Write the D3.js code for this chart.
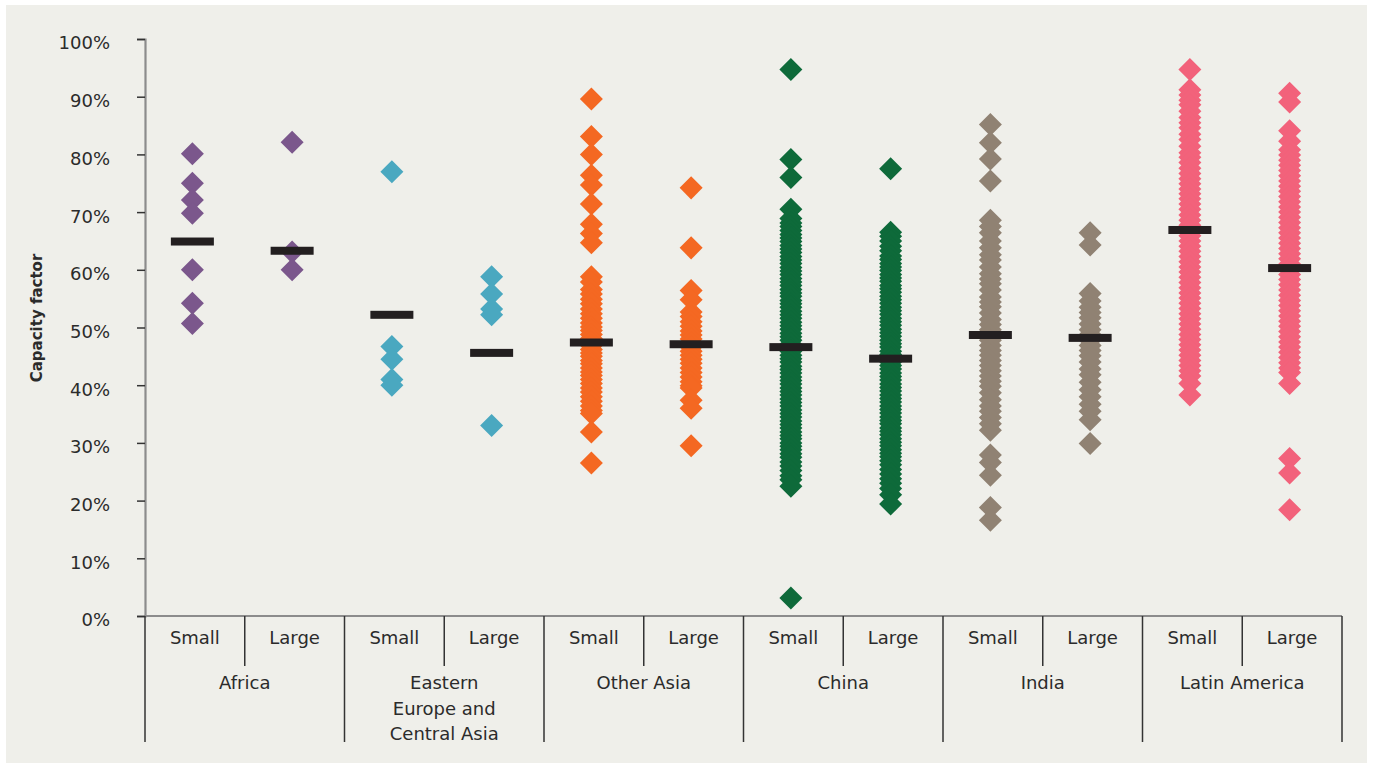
<!DOCTYPE html>
<html><head><meta charset="utf-8">
<script src="https://cdn.jsdelivr.net/npm/d3@7"></script>
<style>
html,body{margin:0;padding:0;background:#ffffff;}
svg{display:block;}
text{font-family:"DejaVu Sans",sans-serif;fill:#2b2b2b;}
</style></head>
<body>
<svg id="chart" width="1373" height="769"></svg>
<script>
// ---- data ----
const groups = ["Africa", "Eastern\nEurope and\nCentral Asia", "Other Asia", "China", "India", "Latin America"];
const sizes = ["Small", "Large"];
const groupColors = ["#7b578c", "#4aa8c0", "#f46822", "#0e6a3a", "#908273", "#f2627b"];
const yTicks = [0, 10, 20, 30, 40, 50, 60, 70, 80, 90, 100];
const yTitle = "Capacity factor";

const africaSmall = [80.1, 75.0, 72.1, 69.8, 60.0, 54.2, 50.7];
const africaLarge = [82.1, 63.1, 60.0];
const eeSmall = [77.0, 46.7, 44.5, 41.0, 40.0];
const eeLarge = [58.8, 55.8, 53.2, 52.2, 33.0];
const otherAsiaSmall = [89.6, 83.1, 80.0, 76.4, 74.7, 71.4, 67.9, 66.3, 64.7, 58.8, 57.9, 56.6, 55.8, 54.9, 54.1, 53.2, 52.4, 51.6, 50.8, 50.1, 49.5, 48.8, 48.1, 47.5, 46.9, 46.2, 45.6, 45.0, 44.3, 43.7, 43.0, 42.3, 41.7, 41.0, 40.3, 39.5, 38.8, 38.0, 37.2, 36.4, 35.6, 35.1, 31.9, 26.5];
const otherAsiaLarge = [74.2, 63.8, 56.4, 54.8, 52.7, 51.9, 51.0, 50.2, 49.4, 48.7, 48.0, 47.3, 46.6, 45.9, 45.2, 44.5, 43.8, 43.0, 42.2, 41.4, 40.6, 39.9, 39.5, 37.4, 36.0, 29.5];
const chinaSmall = [94.7, 79.1, 76.0, 70.5, 68.9, 68.1, 67.5, 66.8, 66.1, 65.5, 64.9, 64.2, 63.6, 63.0, 62.3, 61.7, 61.1, 60.4, 59.8, 59.2, 58.5, 57.9, 57.3, 56.6, 56.0, 55.4, 54.7, 54.1, 53.5, 52.8, 52.2, 51.6, 50.9, 50.3, 49.7, 49.0, 48.4, 47.8, 47.1, 46.5, 45.9, 45.2, 44.6, 44.0, 43.3, 42.7, 42.1, 41.4, 40.8, 40.2, 39.5, 38.9, 38.3, 37.6, 37.0, 36.4, 35.7, 35.1, 34.5, 33.8, 33.2, 32.6, 31.9, 31.3, 30.7, 30.0, 29.4, 28.8, 28.1, 27.5, 26.7, 26.0, 25.2, 24.3, 23.6, 22.5, 3.1];
const chinaLarge = [77.5, 66.5, 65.8, 65.0, 64.1, 63.3, 62.4, 61.8, 61.1, 60.5, 59.9, 59.2, 58.6, 58.0, 57.3, 56.7, 56.1, 55.4, 54.8, 54.2, 53.5, 52.9, 52.3, 51.6, 51.0, 50.4, 49.7, 49.1, 48.5, 47.8, 47.2, 46.6, 45.9, 45.3, 44.7, 44.0, 43.4, 42.8, 42.1, 41.5, 40.9, 40.2, 39.6, 39.0, 38.3, 37.7, 37.1, 36.4, 35.8, 35.2, 34.5, 33.9, 33.3, 32.6, 32.0, 31.4, 30.7, 30.1, 29.5, 28.8, 28.2, 27.6, 26.9, 26.2, 25.4, 24.6, 23.8, 23.0, 22.1, 21.0, 19.4];
const indiaSmall = [85.2, 82.0, 79.2, 75.4, 68.6, 67.5, 66.4, 65.0, 63.8, 62.6, 61.7, 60.5, 59.3, 58.4, 57.6, 56.5, 55.3, 54.4, 53.6, 52.5, 51.4, 50.5, 49.6, 48.7, 47.8, 46.9, 46.0, 45.2, 44.3, 43.4, 42.5, 41.6, 40.7, 39.8, 38.7, 37.5, 36.4, 35.5, 34.4, 33.3, 32.2, 27.9, 26.6, 24.4, 18.8, 16.6];
const indiaLarge = [66.4, 64.3, 55.9, 54.6, 53.5, 52.6, 51.7, 50.6, 49.6, 48.8, 47.8, 46.9, 46.0, 45.1, 44.0, 42.8, 41.8, 40.5, 39.2, 38.0, 36.7, 35.5, 34.0, 29.9];
const latinSmall = [94.7, 91.2, 90.3, 89.4, 88.6, 87.5, 86.4, 85.5, 84.6, 83.5, 82.6, 81.4, 80.3, 79.5, 78.6, 77.6, 76.7, 75.8, 74.9, 74.0, 73.2, 72.3, 71.4, 70.5, 69.5, 68.6, 67.7, 66.8, 65.9, 65.0, 64.1, 63.2, 62.3, 61.4, 60.5, 59.6, 58.7, 57.8, 56.9, 56.0, 55.1, 54.2, 53.3, 52.4, 51.5, 50.6, 49.7, 48.8, 47.9, 47.0, 46.1, 45.2, 44.3, 43.4, 42.5, 41.6, 40.3, 38.3];
const latinLarge = [90.6, 89.1, 84.1, 82.3, 80.8, 79.9, 79.0, 78.1, 77.2, 76.3, 75.4, 74.5, 73.6, 72.7, 71.8, 70.9, 70.0, 69.1, 68.2, 67.3, 66.4, 65.5, 64.6, 63.7, 62.8, 61.9, 61.0, 60.1, 59.2, 58.3, 57.4, 56.5, 55.6, 54.7, 53.8, 52.9, 52.0, 51.1, 50.2, 49.3, 48.4, 47.5, 46.6, 45.7, 44.8, 43.9, 43.0, 42.2, 40.3, 27.3, 24.8, 18.4];

const columnValues = [africaSmall, africaLarge, eeSmall, eeLarge, otherAsiaSmall, otherAsiaLarge, chinaSmall, chinaLarge, indiaSmall, indiaLarge, latinSmall, latinLarge];
const medians = [64.9, 63.3, 52.2, 45.6, 47.4, 47.1, 46.6, 44.6, 48.7, 48.2, 66.9, 60.3];

// ---- layout ----
const svg = d3.select("#chart");
const mLeft = 145, mRight = 1342, mTop = 39, mBottom = 616;

svg.append("rect").attr("x", 6).attr("y", 5).attr("width", 1361).attr("height", 758).attr("fill", "#efefea");

const columns = [];
groups.forEach((g, gi) => sizes.forEach((s, si) => columns.push({key: gi + "-" + si, group: gi, size: s, values: columnValues[gi * 2 + si], median: medians[gi * 2 + si]})));

const x = d3.scaleBand().domain(columns.map(c => c.key)).range([mLeft, mRight]).padding(0);
const y = d3.scaleLinear().domain([0, 100]).range([mBottom, mTop]);
const cx = k => x(k) + x.bandwidth() / 2 - 2.5;

// y axis
const yAxis = svg.append("g").attr("transform", `translate(${mLeft},0)`)
  .call(d3.axisLeft(y).tickValues(yTicks).tickFormat(d => d + "%").tickSize(8).tickPadding(27));
yAxis.select(".domain").attr("stroke", "#8c8c8c").attr("stroke-width", 2.2);
yAxis.selectAll(".tick line").attr("stroke", "#333").attr("stroke-width", 1.5);
yAxis.selectAll(".tick text").style("font-family", '"DejaVu Sans",sans-serif').style("font-size", "18px")
  .attr("fill", "#2b2b2b").attr("dy", "0.55em");

// x axis line
svg.append("line").attr("x1", mLeft).attr("x2", mRight).attr("y1", mBottom).attr("y2", mBottom)
  .attr("stroke", "#8c8c8c").attr("stroke-width", 2.2);

// separators
columns.forEach((c, i) => {
  const xx = x(c.key);
  const isGroupStart = i % 2 === 0;
  svg.append("line").attr("x1", xx).attr("x2", xx).attr("y1", mBottom).attr("y2", isGroupStart ? 742 : 666)
    .attr("stroke", "#333").attr("stroke-width", 1.5);
});
svg.append("line").attr("x1", mRight).attr("x2", mRight).attr("y1", mBottom).attr("y2", 742)
  .attr("stroke", "#333").attr("stroke-width", 1.5);

// sub labels
svg.selectAll("text.sub").data(columns).enter().append("text").attr("class", "sub")
  .attr("x", d => x(d.key) + x.bandwidth() / 2).attr("y", 644)
  .attr("text-anchor", "middle").style("font-size", "18px").text(d => d.size);

// group labels
groups.forEach((g, gi) => {
  const gx = x(gi + "-0") + x.bandwidth();
  const t = svg.append("text").attr("x", gx).attr("y", 689).attr("text-anchor", "middle").style("font-size", "18px");
  g.split("\n").forEach((line, li) => {
    t.append("tspan").attr("x", gx).attr("dy", li === 0 ? 0 : 25.5).text(line);
  });
});

// y title
svg.append("text").attr("transform", "translate(42,318) rotate(-90)").attr("text-anchor", "middle")
  .style("font-size", "15px").style("font-weight", "bold").attr("fill", "#1a1a1a").text(yTitle);

// points
const sym = d3.symbol().type(d3.symbolSquare).size(265);
columns.forEach(c => {
  svg.append("g").selectAll("path").data(c.values).enter().append("path")
    .attr("d", sym)
    .attr("transform", v => `translate(${cx(c.key)},${y(v)}) rotate(45)`)
    .attr("fill", groupColors[c.group]);
});

// medians
svg.append("g").selectAll("rect").data(columns).enter().append("rect")
  .attr("x", d => cx(d.key) - 21.5).attr("y", d => y(d.median) - 4)
  .attr("width", 43).attr("height", 8).attr("fill", "#231f20");
</script>
</body></html>
